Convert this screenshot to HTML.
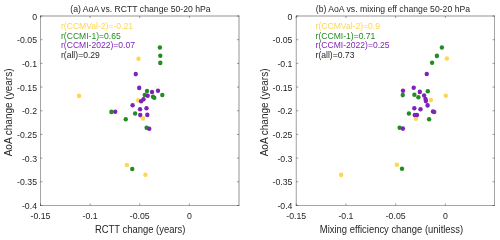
<!DOCTYPE html>
<html><head><meta charset="utf-8"><style>
html,body{margin:0;padding:0;background:#fff;width:500px;height:240px;overflow:hidden}
svg{display:block}
#w{will-change:transform}
text{font-family:"Liberation Sans",sans-serif;fill:#262626}
.ax{stroke:#262626;stroke-width:0.45;fill:none}
.tk{font-size:8.75px}
.ti{font-size:8.66px}
.lb{font-size:9.42px}
.lby{font-size:10px}
.lg{font-size:8.58px}
</style></head><body>
<div id="w"><svg width="500" height="240" viewBox="0 0 500 240">
<line x1="40.2" y1="16.0" x2="239.3" y2="16.0" class="ax" style="stroke-width:0.5"/>
<line x1="40.2" y1="205.5" x2="239.3" y2="205.5" class="ax" style="stroke-width:0.42"/>
<line x1="40.5" y1="15.7" x2="40.5" y2="205.8" class="ax" style="stroke-width:0.42"/>
<line x1="239.0" y1="15.7" x2="239.0" y2="205.8" class="ax" style="stroke-width:0.5"/>
<line x1="40.50" y1="205.5" x2="40.50" y2="203.5" class="ax"/>
<line x1="40.50" y1="16.0" x2="40.50" y2="18.0" class="ax"/>
<text transform="translate(40.50,218.70) scale(1,1.12)" class="tk" text-anchor="middle">-0.15</text>
<line x1="90.13" y1="205.5" x2="90.13" y2="203.5" class="ax"/>
<line x1="90.13" y1="16.0" x2="90.13" y2="18.0" class="ax"/>
<text transform="translate(90.13,218.70) scale(1,1.12)" class="tk" text-anchor="middle">-0.1</text>
<line x1="139.76" y1="205.5" x2="139.76" y2="203.5" class="ax"/>
<line x1="139.76" y1="16.0" x2="139.76" y2="18.0" class="ax"/>
<text transform="translate(139.76,218.70) scale(1,1.12)" class="tk" text-anchor="middle">-0.05</text>
<line x1="189.39" y1="205.5" x2="189.39" y2="203.5" class="ax"/>
<line x1="189.39" y1="16.0" x2="189.39" y2="18.0" class="ax"/>
<text transform="translate(189.39,218.70) scale(1,1.12)" class="tk" text-anchor="middle">0</text>
<line x1="40.5" y1="16.00" x2="42.5" y2="16.00" class="ax"/>
<line x1="239.0" y1="16.00" x2="237.0" y2="16.00" class="ax"/>
<text transform="translate(37.00,19.50) scale(1,1.12)" class="tk" text-anchor="end">0</text>
<line x1="40.5" y1="39.69" x2="42.5" y2="39.69" class="ax"/>
<line x1="239.0" y1="39.69" x2="237.0" y2="39.69" class="ax"/>
<text transform="translate(37.00,43.19) scale(1,1.12)" class="tk" text-anchor="end">-0.05</text>
<line x1="40.5" y1="63.38" x2="42.5" y2="63.38" class="ax"/>
<line x1="239.0" y1="63.38" x2="237.0" y2="63.38" class="ax"/>
<text transform="translate(37.00,66.88) scale(1,1.12)" class="tk" text-anchor="end">-0.1</text>
<line x1="40.5" y1="87.06" x2="42.5" y2="87.06" class="ax"/>
<line x1="239.0" y1="87.06" x2="237.0" y2="87.06" class="ax"/>
<text transform="translate(37.00,90.56) scale(1,1.12)" class="tk" text-anchor="end">-0.15</text>
<line x1="40.5" y1="110.75" x2="42.5" y2="110.75" class="ax"/>
<line x1="239.0" y1="110.75" x2="237.0" y2="110.75" class="ax"/>
<text transform="translate(37.00,114.25) scale(1,1.12)" class="tk" text-anchor="end">-0.2</text>
<line x1="40.5" y1="134.44" x2="42.5" y2="134.44" class="ax"/>
<line x1="239.0" y1="134.44" x2="237.0" y2="134.44" class="ax"/>
<text transform="translate(37.00,137.94) scale(1,1.12)" class="tk" text-anchor="end">-0.25</text>
<line x1="40.5" y1="158.12" x2="42.5" y2="158.12" class="ax"/>
<line x1="239.0" y1="158.12" x2="237.0" y2="158.12" class="ax"/>
<text transform="translate(37.00,161.62) scale(1,1.12)" class="tk" text-anchor="end">-0.3</text>
<line x1="40.5" y1="181.81" x2="42.5" y2="181.81" class="ax"/>
<line x1="239.0" y1="181.81" x2="237.0" y2="181.81" class="ax"/>
<text transform="translate(37.00,185.31) scale(1,1.12)" class="tk" text-anchor="end">-0.35</text>
<line x1="40.5" y1="205.50" x2="42.5" y2="205.50" class="ax"/>
<line x1="239.0" y1="205.50" x2="237.0" y2="205.50" class="ax"/>
<text transform="translate(37.00,209.00) scale(1,1.12)" class="tk" text-anchor="end">-0.4</text>
<ellipse cx="79" cy="95.9" rx="2.2" ry="2.3" fill="#FED650"/>
<ellipse cx="138.5" cy="58.75" rx="2.2" ry="2.3" fill="#FED650"/>
<ellipse cx="138.25" cy="100.25" rx="2.2" ry="2.3" fill="#FED650"/>
<ellipse cx="126.9" cy="165" rx="2.2" ry="2.3" fill="#FED650"/>
<ellipse cx="145.4" cy="174.75" rx="2.2" ry="2.3" fill="#FED650"/>
<ellipse cx="159.9" cy="47.5" rx="2.2" ry="2.3" fill="#228B22"/>
<ellipse cx="160.3" cy="55.75" rx="2.2" ry="2.3" fill="#228B22"/>
<ellipse cx="160.3" cy="62.9" rx="2.2" ry="2.3" fill="#228B22"/>
<ellipse cx="147" cy="91.1" rx="2.2" ry="2.3" fill="#228B22"/>
<ellipse cx="144.7" cy="95" rx="2.2" ry="2.3" fill="#228B22"/>
<ellipse cx="153" cy="96.7" rx="2.2" ry="2.3" fill="#228B22"/>
<ellipse cx="154.3" cy="97.7" rx="2.2" ry="2.3" fill="#228B22"/>
<ellipse cx="162.3" cy="95" rx="2.2" ry="2.3" fill="#228B22"/>
<ellipse cx="111.4" cy="111.9" rx="2.2" ry="2.3" fill="#228B22"/>
<ellipse cx="135.1" cy="113.5" rx="2.2" ry="2.3" fill="#228B22"/>
<ellipse cx="125.75" cy="119.3" rx="2.2" ry="2.3" fill="#228B22"/>
<ellipse cx="146.6" cy="127.8" rx="2.2" ry="2.3" fill="#228B22"/>
<ellipse cx="132.25" cy="169" rx="2.2" ry="2.3" fill="#228B22"/>
<ellipse cx="135.75" cy="74.1" rx="2.2" ry="2.3" fill="#7E22B8"/>
<ellipse cx="139.2" cy="87.9" rx="2.2" ry="2.3" fill="#7E22B8"/>
<ellipse cx="152" cy="92" rx="2.2" ry="2.3" fill="#7E22B8"/>
<ellipse cx="158" cy="90.8" rx="2.2" ry="2.3" fill="#7E22B8"/>
<ellipse cx="147.7" cy="95.7" rx="2.2" ry="2.3" fill="#7E22B8"/>
<ellipse cx="143.5" cy="99.3" rx="2.2" ry="2.3" fill="#7E22B8"/>
<ellipse cx="141.1" cy="101.2" rx="2.2" ry="2.3" fill="#7E22B8"/>
<ellipse cx="132.6" cy="105.3" rx="2.2" ry="2.3" fill="#7E22B8"/>
<ellipse cx="140.1" cy="109.25" rx="2.2" ry="2.3" fill="#7E22B8"/>
<ellipse cx="146.5" cy="108.25" rx="2.2" ry="2.3" fill="#7E22B8"/>
<ellipse cx="140.25" cy="115.1" rx="2.2" ry="2.3" fill="#7E22B8"/>
<ellipse cx="147.3" cy="114.9" rx="2.2" ry="2.3" fill="#7E22B8"/>
<ellipse cx="115.2" cy="111.7" rx="2.2" ry="2.3" fill="#7E22B8"/>
<ellipse cx="149.25" cy="128.7" rx="2.2" ry="2.3" fill="#7E22B8"/>
<ellipse cx="143" cy="118.4" rx="2.2" ry="2.3" fill="#FED650"/>
<text transform="translate(140.45,11.70) scale(1,1.15)" class="ti" text-anchor="middle">(a) AoA vs. RCTT change 50-20 hPa</text>
<text transform="translate(140.20,232.60) scale(1,1.12)" class="lb" text-anchor="middle">RCTT change (years)</text>
<text transform="translate(12.40,112.45) rotate(-90) scale(1,1.0)" class="lby" text-anchor="middle">AoA change (years)</text>
<text transform="translate(61.00,29.20) scale(1,1.12)" class="lg" style="fill:#FED650">r(CCMVal-2)=-0.21</text>
<text transform="translate(61.00,38.65) scale(1,1.12)" class="lg" style="fill:#228B22">r(CCMI-1)=0.65</text>
<text transform="translate(61.00,48.10) scale(1,1.12)" class="lg" style="fill:#7E22B8">r(CCMI-2022)=0.07</text>
<text transform="translate(61.00,57.55) scale(1,1.12)" class="lg" style="fill:#262626">r(all)=0.29</text>
<line x1="295.95" y1="16.0" x2="494.8" y2="16.0" class="ax" style="stroke-width:0.5"/>
<line x1="295.95" y1="205.5" x2="494.8" y2="205.5" class="ax" style="stroke-width:0.42"/>
<line x1="296.25" y1="15.7" x2="296.25" y2="205.8" class="ax" style="stroke-width:0.45"/>
<line x1="494.5" y1="15.7" x2="494.5" y2="205.8" class="ax" style="stroke-width:0.42"/>
<line x1="296.25" y1="205.5" x2="296.25" y2="203.5" class="ax"/>
<line x1="296.25" y1="16.0" x2="296.25" y2="18.0" class="ax"/>
<text transform="translate(296.25,218.70) scale(1,1.12)" class="tk" text-anchor="middle">-0.15</text>
<line x1="345.95" y1="205.5" x2="345.95" y2="203.5" class="ax"/>
<line x1="345.95" y1="16.0" x2="345.95" y2="18.0" class="ax"/>
<text transform="translate(345.95,218.70) scale(1,1.12)" class="tk" text-anchor="middle">-0.1</text>
<line x1="395.65" y1="205.5" x2="395.65" y2="203.5" class="ax"/>
<line x1="395.65" y1="16.0" x2="395.65" y2="18.0" class="ax"/>
<text transform="translate(395.65,218.70) scale(1,1.12)" class="tk" text-anchor="middle">-0.05</text>
<line x1="445.35" y1="205.5" x2="445.35" y2="203.5" class="ax"/>
<line x1="445.35" y1="16.0" x2="445.35" y2="18.0" class="ax"/>
<text transform="translate(445.35,218.70) scale(1,1.12)" class="tk" text-anchor="middle">0</text>
<line x1="296.25" y1="16.00" x2="298.25" y2="16.00" class="ax"/>
<line x1="494.5" y1="16.00" x2="492.5" y2="16.00" class="ax"/>
<text transform="translate(292.45,19.50) scale(1,1.12)" class="tk" text-anchor="end">0</text>
<line x1="296.25" y1="39.69" x2="298.25" y2="39.69" class="ax"/>
<line x1="494.5" y1="39.69" x2="492.5" y2="39.69" class="ax"/>
<text transform="translate(292.45,43.19) scale(1,1.12)" class="tk" text-anchor="end">-0.05</text>
<line x1="296.25" y1="63.38" x2="298.25" y2="63.38" class="ax"/>
<line x1="494.5" y1="63.38" x2="492.5" y2="63.38" class="ax"/>
<text transform="translate(292.45,66.88) scale(1,1.12)" class="tk" text-anchor="end">-0.1</text>
<line x1="296.25" y1="87.06" x2="298.25" y2="87.06" class="ax"/>
<line x1="494.5" y1="87.06" x2="492.5" y2="87.06" class="ax"/>
<text transform="translate(292.45,90.56) scale(1,1.12)" class="tk" text-anchor="end">-0.15</text>
<line x1="296.25" y1="110.75" x2="298.25" y2="110.75" class="ax"/>
<line x1="494.5" y1="110.75" x2="492.5" y2="110.75" class="ax"/>
<text transform="translate(292.45,114.25) scale(1,1.12)" class="tk" text-anchor="end">-0.2</text>
<line x1="296.25" y1="134.44" x2="298.25" y2="134.44" class="ax"/>
<line x1="494.5" y1="134.44" x2="492.5" y2="134.44" class="ax"/>
<text transform="translate(292.45,137.94) scale(1,1.12)" class="tk" text-anchor="end">-0.25</text>
<line x1="296.25" y1="158.12" x2="298.25" y2="158.12" class="ax"/>
<line x1="494.5" y1="158.12" x2="492.5" y2="158.12" class="ax"/>
<text transform="translate(292.45,161.62) scale(1,1.12)" class="tk" text-anchor="end">-0.3</text>
<line x1="296.25" y1="181.81" x2="298.25" y2="181.81" class="ax"/>
<line x1="494.5" y1="181.81" x2="492.5" y2="181.81" class="ax"/>
<text transform="translate(292.45,185.31) scale(1,1.12)" class="tk" text-anchor="end">-0.35</text>
<line x1="296.25" y1="205.50" x2="298.25" y2="205.50" class="ax"/>
<line x1="494.5" y1="205.50" x2="492.5" y2="205.50" class="ax"/>
<text transform="translate(292.45,209.00) scale(1,1.12)" class="tk" text-anchor="end">-0.4</text>
<ellipse cx="446.9" cy="58.5" rx="2.2" ry="2.3" fill="#FED650"/>
<ellipse cx="445.8" cy="95.7" rx="2.2" ry="2.3" fill="#FED650"/>
<ellipse cx="341.2" cy="174.9" rx="2.2" ry="2.3" fill="#FED650"/>
<ellipse cx="396.9" cy="164.8" rx="2.2" ry="2.3" fill="#FED650"/>
<ellipse cx="416" cy="118.7" rx="2.2" ry="2.3" fill="#FED650"/>
<ellipse cx="441.9" cy="47.5" rx="2.2" ry="2.3" fill="#228B22"/>
<ellipse cx="436.9" cy="55.9" rx="2.2" ry="2.3" fill="#228B22"/>
<ellipse cx="432.1" cy="62.75" rx="2.2" ry="2.3" fill="#228B22"/>
<ellipse cx="402.75" cy="95.1" rx="2.2" ry="2.3" fill="#228B22"/>
<ellipse cx="427.8" cy="91.3" rx="2.2" ry="2.3" fill="#228B22"/>
<ellipse cx="414.4" cy="94.8" rx="2.2" ry="2.3" fill="#228B22"/>
<ellipse cx="418.4" cy="97.2" rx="2.2" ry="2.3" fill="#228B22"/>
<ellipse cx="408.9" cy="113.5" rx="2.2" ry="2.3" fill="#228B22"/>
<ellipse cx="434.3" cy="112" rx="2.2" ry="2.3" fill="#228B22"/>
<ellipse cx="429.1" cy="119.3" rx="2.2" ry="2.3" fill="#228B22"/>
<ellipse cx="399.6" cy="127.75" rx="2.2" ry="2.3" fill="#228B22"/>
<ellipse cx="402" cy="168.8" rx="2.2" ry="2.3" fill="#228B22"/>
<ellipse cx="426.75" cy="73.95" rx="2.2" ry="2.3" fill="#7E22B8"/>
<ellipse cx="403" cy="90.8" rx="2.2" ry="2.3" fill="#7E22B8"/>
<ellipse cx="413.7" cy="87.75" rx="2.2" ry="2.3" fill="#7E22B8"/>
<ellipse cx="419.8" cy="91.9" rx="2.2" ry="2.3" fill="#7E22B8"/>
<ellipse cx="424.1" cy="95.5" rx="2.2" ry="2.3" fill="#7E22B8"/>
<ellipse cx="425.5" cy="99" rx="2.2" ry="2.3" fill="#7E22B8"/>
<ellipse cx="425.9" cy="101.1" rx="2.2" ry="2.3" fill="#7E22B8"/>
<ellipse cx="427.6" cy="105.4" rx="2.2" ry="2.3" fill="#7E22B8"/>
<ellipse cx="414.3" cy="108.3" rx="2.2" ry="2.3" fill="#7E22B8"/>
<ellipse cx="420.5" cy="109.2" rx="2.2" ry="2.3" fill="#7E22B8"/>
<ellipse cx="433" cy="111.45" rx="2.2" ry="2.3" fill="#7E22B8"/>
<ellipse cx="414.75" cy="115" rx="2.2" ry="2.3" fill="#7E22B8"/>
<ellipse cx="417" cy="115" rx="2.2" ry="2.3" fill="#7E22B8"/>
<ellipse cx="402.9" cy="128.6" rx="2.2" ry="2.3" fill="#7E22B8"/>
<ellipse cx="430.9" cy="100.1" rx="2.2" ry="2.3" fill="#FED650"/>
<text transform="translate(392.90,11.70) scale(1,1.15)" class="ti" text-anchor="middle">(b) AoA vs. mixing eff change 50-20 hPa</text>
<text transform="translate(391.50,232.60) scale(1,1.12)" class="lb" text-anchor="middle">Mixing efficiency change (unitless)</text>
<text transform="translate(268.40,112.45) rotate(-90) scale(1,1.0)" class="lby" text-anchor="middle">AoA change (years)</text>
<text transform="translate(315.60,29.20) scale(1,1.12)" class="lg" style="fill:#FED650">r(CCMVal-2)=0.9</text>
<text transform="translate(315.60,38.65) scale(1,1.12)" class="lg" style="fill:#228B22">r(CCMI-1)=0.71</text>
<text transform="translate(315.60,48.10) scale(1,1.12)" class="lg" style="fill:#7E22B8">r(CCMI-2022)=0.25</text>
<text transform="translate(315.60,57.55) scale(1,1.12)" class="lg" style="fill:#262626">r(all)=0.73</text>
</svg></div>
</body></html>
